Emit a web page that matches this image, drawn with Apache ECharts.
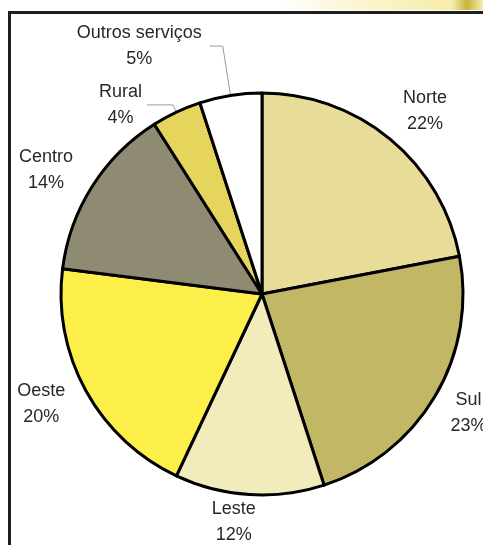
<!DOCTYPE html>
<html>
<head>
<meta charset="utf-8">
<script src="https://cdn.jsdelivr.net/npm/echarts@6/dist/echarts.min.js"></script>
<style>
  html, body { margin: 0; padding: 0; background: #ffffff; }
  #chart { width: 483px; height: 545px; }
</style>
</head>
<body>
<div id="chart"></div>
<script>
// ---- data ----
const categories = ['Norte', 'Sul', 'Leste', 'Oeste', 'Centro', 'Rural', 'Outros serviços'];
const shares = [22, 23, 12, 20, 14, 4, 5];

// ---- styles (kept apart from data) ----
const sliceColors = ['#e7dc98', '#c1b765', '#f2ecbd', '#fdef4a', '#8f8b73', '#e5d55c', '#ffffff'];
// label placement tuning per slice: [labelLine length, length2, distanceToLabelLine, show line]
const labelTuning = {
  'Norte':           [36, 0, -10, false],
  'Sul':             [33, 0, -13, false],
  'Leste':           [27, 0, -8, false],
  'Oeste':           [27, 0, -3, false],
  'Centro':          [30, 0, -6, false],
  'Rural':           [8, 26, 5, true],
  'Outros serviços': [50, 13, 8, true]
};

const FONT = '"Liberation Sans", Arial, Helvetica, sans-serif';
const TEXT_COLOR = '#282828';

const seriesData = categories.map((name, i) => {
  const t = labelTuning[name];
  return {
    name: name,
    value: shares[i],
    itemStyle: { color: sliceColors[i] },
    label: { distanceToLabelLine: t[2] },
    labelLine: {
      show: t[3],
      length: t[0],
      length2: t[1],
      lineStyle: { color: '#9a9a9a', width: 1 }
    }
  };
});

const chart = echarts.init(document.getElementById('chart'), null, { renderer: 'canvas' });
chart.setOption({
  backgroundColor: '#ffffff',
  animation: false,
  graphic: [
    {
      type: 'rect',
      shape: { x: 280, y: 0, width: 203, height: 10 },
      style: {
        fill: {
          type: 'linear', x: 0, y: 0, x2: 1, y2: 0,
          colorStops: [
            { offset: 0, color: 'rgba(250,244,200,0)' },
            { offset: 0.4, color: 'rgba(250,244,200,0.9)' },
            { offset: 0.85, color: 'rgba(246,236,170,1)' },
            { offset: 0.92, color: 'rgba(200,180,60,1)' },
            { offset: 1, color: 'rgba(246,236,170,1)' }
          ]
        }
      },
      silent: true
    },
    {
      type: 'polyline',
      shape: { points: [[9.5, 545], [9.5, 12.5], [483, 12.5]] },
      style: { stroke: '#1e1e1e', lineWidth: 3, fill: null },
      silent: true
    }
  ],
  series: [
    {
      type: 'pie',
      center: [262, 294],
      radius: 201,
      startAngle: 90,
      clockwise: true,
      avoidLabelOverlap: false,
      itemStyle: { borderColor: '#000000', borderWidth: 3 },
      emphasis: { disabled: true },
      label: {
        show: true,
        position: 'outside',
        alignTo: 'none',
        formatter: '{t|{b}}\n{t|{c}%}',
        color: TEXT_COLOR,
        fontFamily: FONT,
        fontSize: 18,
        rich: {
          t: {
            align: 'center',
            color: TEXT_COLOR,
            fontFamily: FONT,
            fontSize: 18,
            lineHeight: 26
          }
        }
      },
      data: seriesData
    }
  ]
});
</script>
</body>
</html>
